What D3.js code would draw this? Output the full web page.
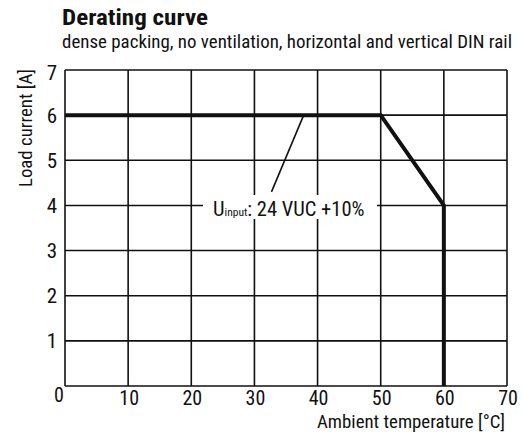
<!DOCTYPE html>
<html><head><meta charset="utf-8">
<script src="https://cdn.jsdelivr.net/npm/d3@7"></script>
<style>
body{margin:0;background:#fff;}
text{font-family:"Liberation Sans Narrow","Roboto Condensed","Liberation Sans",Arial,sans-serif;fill:#111;}
</style></head><body>
<svg id="c" width="523" height="433"></svg>
<script>
const curveX = [0, 50, 60, 60];
const curveY = [6, 6, 4, 0];
const xTicks = [0, 10, 20, 30, 40, 50, 60, 70];
const yTicks = [0, 1, 2, 3, 4, 5, 6, 7];
const leaderX = [37.8, 32.7];
const leaderY = [6, 4.3];
const title = "Derating curve";
const subtitle = "dense packing, no ventilation, horizontal and vertical DIN rail";
const xLabel = "Ambient temperature [°C]";
const yLabel = "Load current [A]";

const svg = d3.select("#c");
const x = d3.scaleLinear().domain([0, 70]).range([65, 507]);
const y = d3.scaleLinear().domain([0, 7]).range([386, 70]);

svg.append("text").attr("x", 62).attr("y", 24.5).attr("font-size", 22).attr("font-weight", "bold")
  .attr("textLength", 146).attr("lengthAdjust", "spacingAndGlyphs").text(title);
svg.append("text").attr("x", 62).attr("y", 48).attr("font-size", 18.5)
  .attr("textLength", 450).attr("lengthAdjust", "spacingAndGlyphs").text(subtitle);

const g = svg.append("g");
g.selectAll("line.v").data(xTicks).join("line").attr("class", "v")
  .attr("x1", d => x(d)).attr("x2", d => x(d)).attr("y1", y(0)).attr("y2", y(7))
  .attr("stroke", "#111").attr("stroke-width", 1.6);
g.selectAll("line.h").data(yTicks).join("line").attr("class", "h")
  .attr("y1", d => y(d)).attr("y2", d => y(d)).attr("x1", x(0)).attr("x2", x(70))
  .attr("stroke", "#111").attr("stroke-width", 1.6);

svg.selectAll("text.yt").data(yTicks.filter(d => d > 0)).join("text").attr("class", "yt")
  .attr("x", 57).attr("y", d => y(d) + (d === 7 ? 10 : 7.5)).attr("text-anchor", "end").attr("font-size", 21).text(d => d);
svg.selectAll("text.xt").data(xTicks).join("text").attr("class", "xt")
  .attr("x", d => d === 0 ? x(d) - 6 : x(d) + 1).attr("y", d => d === 0 ? 402 : 405)
  .attr("text-anchor", "middle").attr("font-size", 20).text(d => d);

svg.append("text").attr("x", 505).attr("y", 428).attr("text-anchor", "end").attr("font-size", 19)
  .attr("textLength", 188).attr("lengthAdjust", "spacingAndGlyphs").text(xLabel);
svg.append("text").attr("transform", "translate(32,128) rotate(-90)").attr("text-anchor", "middle").attr("font-size", 18.5)
  .attr("textLength", 118).attr("lengthAdjust", "spacingAndGlyphs").text(yLabel);

const ann = svg.append("g");
ann.append("rect").attr("x", 203).attr("y", 195).attr("width", 174).attr("height", 24).attr("fill", "#fff");
const t = ann.append("text").attr("x", 213).attr("y", 216).attr("font-size", 20.5);
t.append("tspan").text("U");
t.append("tspan").attr("font-size", 11.5).text("input");
t.append("tspan").text(": 24 VUC +10%");

svg.append("line").attr("x1", x(leaderX[0])).attr("y1", y(leaderY[0])).attr("x2", x(leaderX[1])).attr("y2", y(leaderY[1]))
  .attr("stroke", "#111").attr("stroke-width", 1.6);

const pts = curveX.map((d, i) => [d, curveY[i]]);
svg.append("path").attr("d", d3.line().x(d => x(d[0])).y(d => y(d[1]))(pts))
  .attr("fill", "none").attr("stroke", "#111").attr("stroke-width", 4).attr("stroke-linejoin", "miter");
</script></body></html>
